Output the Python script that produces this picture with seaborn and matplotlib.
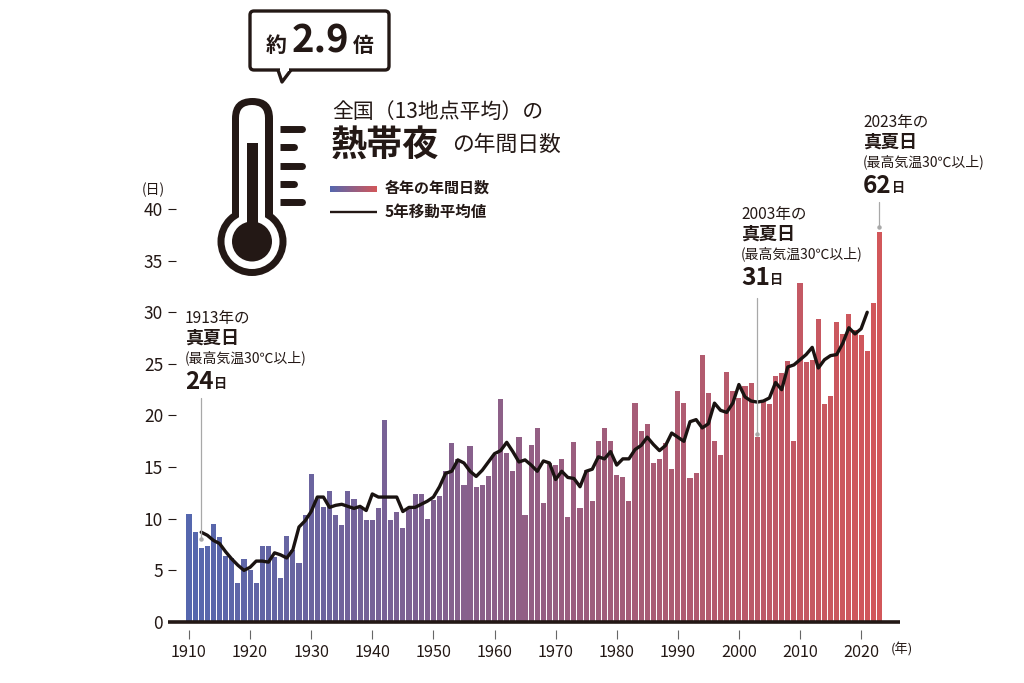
import numpy as np
import pandas as pd
import matplotlib
matplotlib.use("Agg")
import matplotlib.pyplot as plt
import seaborn as sns
from matplotlib.patches import Circle, FancyBboxPatch, Polygon, Rectangle

# Values
first_year = 1910
days = [
    10.5, 8.7, 7.2, 7.4, 9.5, 8.2, 6.4, 6.2, 3.8, 6.1,
    5.0, 3.8, 7.4, 7.4, 6.3, 4.3, 8.3, 7.0, 5.7, 10.4,
    14.3, 11.9, 11.1, 12.7, 10.4, 9.4, 12.7, 11.9, 11.2, 9.9,
    9.9, 11.0, 19.6, 9.9, 10.7, 9.1, 11.0, 12.4, 12.4, 10.0,
    11.8, 12.2, 14.6, 17.3, 15.8, 13.3, 17.0, 13.1, 13.3, 14.1,
    16.2, 21.6, 16.4, 14.6, 17.9, 10.4, 17.1, 18.8, 11.5, 15.4,
    15.2, 15.8, 10.2, 17.4, 11.0, 14.7, 11.7, 17.5, 18.8, 17.5,
    14.2, 14.0, 11.7, 21.2, 18.5, 19.2, 15.4, 15.8, 17.3, 14.8,
    22.4, 21.2, 13.9, 14.4, 25.9, 22.2, 17.5, 16.2, 24.2, 22.4,
    21.7, 22.9, 23.1, 17.9, 21.5, 21.1, 23.8, 24.1, 25.3, 17.5,
    32.8, 25.2, 25.4, 29.3, 21.1, 21.9, 29.1, 27.9, 29.8, 28.3,
    27.8, 26.2, 30.9, 37.8,
]
ma_first_year = 1912
moving_avg = [
    8.7, 8.4, 7.9, 7.6, 6.8, 6.1, 5.5, 5.0,
    5.3, 5.9, 5.9, 5.8, 6.7, 6.5, 6.2, 7.0, 9.2, 9.8,
    10.7, 12.1, 12.1, 11.1, 11.3, 11.4, 11.2, 11.0, 11.2, 10.8,
    12.4, 12.1, 12.1, 12.1, 12.1, 10.7, 11.1, 11.1, 11.4, 11.7,
    12.1, 13.1, 14.4, 14.6, 15.7, 15.4, 14.6, 14.1, 14.7, 15.5,
    16.3, 16.6, 17.4, 16.5, 15.5, 15.7, 15.2, 14.6, 15.6, 15.4,
    13.8, 14.6, 14.0, 13.9, 13.1, 14.6, 14.8, 16.0, 15.8, 16.5,
    15.2, 15.8, 15.8, 16.7, 17.1, 17.9, 17.2, 16.6, 17.1, 18.3,
    17.9, 17.5, 19.4, 19.6, 18.8, 19.2, 21.2, 20.5, 20.3, 21.2,
    23.0, 21.8, 21.4, 21.3, 21.4, 21.7, 23.2, 22.5, 24.7, 24.9,
    25.4, 25.9, 26.6, 24.6, 25.4, 25.8, 25.9, 27.0, 28.5, 27.9,
    28.4, 30.0,
]
x_ticks = list(range(1910, 2021, 10))
y_ticks = [0, 5, 10, 15, 20, 25, 30, 35, 40]
callouts = [
    ("1913年の", "24", 185, 318, 1912, 21.7, 8.0),
    ("2003年の", "31", 741, 214, 2003, 31.4, 18.2),
    ("2023年の", "62", 863, 122, 2023, 40.7, 38.3),
]

INK = "#231815"
BLUE = "#5567AE"
RED = "#D2575A"
LEAD = "#A8A8A8"
W, H = 1024, 683

sns.set_theme(style="white")
plt.rcParams["font.family"] = ["Noto Sans CJK JP", "DejaVu Sans"]
plt.rcParams["text.color"] = INK

years = np.arange(first_year, first_year + len(days))
ma_years = np.arange(ma_first_year, ma_first_year + len(moving_avg))
df = pd.DataFrame({"year": years, "days": days})
ma_df = pd.DataFrame({"year": ma_years, "avg": moving_avg})
colors = sns.blend_palette([BLUE, RED], len(days))

fig = plt.figure(figsize=(W / 100, H / 100), dpi=100, facecolor="white")

# chart axes placed by pixel: left 168, right 900, y=40 at 209, y=0 at 622
ax = fig.add_axes([168 / W, 1 - 622 / H, 732 / W, 413 / H])
sns.barplot(data=df, x="year", y="days", hue="year", palette=dict(zip(years, colors)),
            native_scale=True, dodge=False, legend=False, width=0.84, saturation=1,
            linewidth=0, ax=ax)
sns.lineplot(data=ma_df, x="year", y="avg", color="#1a1311", linewidth=2.4, ax=ax,
             solid_joinstyle="round", solid_capstyle="round", zorder=5)
ax.set_xlim(first_year - 21 / 6.11, first_year + 711 / 6.11)
ax.set_ylim(0, 40)
ax.set_xlabel("")
ax.set_ylabel("")
ax.axhline(0, color=INK, linewidth=2.6, zorder=6, clip_on=False, solid_capstyle="butt")
sns.despine(ax=ax, left=True, top=True, right=True, bottom=False)
ax.spines["bottom"].set_position(("outward", 6))
ax.spines["bottom"].set_visible(False)
ax.set_xticks(x_ticks)
ax.set_yticks(y_ticks)
ax.tick_params(axis="x", bottom=True, length=6.5, width=0.8, color="#666666",
               labelsize=11.7, labelcolor=INK, pad=3)
ax.tick_params(axis="y", left=True, direction="in", length=6, width=0.8, color=INK,
               labelsize=12.5, labelcolor=INK, pad=3.5)
ax.patch.set_alpha(0)

# leader lines from the callouts to their bars
for _, _, _, _, lead_year, lead_top, lead_end in callouts:
    ax.plot([lead_year, lead_year], [lead_top, lead_end], color=LEAD, linewidth=0.9,
            clip_on=False, zorder=7)
    ax.plot([lead_year], [lead_end], "o", color=LEAD, markersize=2.2, clip_on=False, zorder=7)

# overlay in pixel coordinates for the icon, the title and the notes
ov = fig.add_axes([0, 0, 1, 1], facecolor="none")
ov.set_xlim(0, W)
ov.set_ylim(H, 0)
ov.axis("off")


def label(x, y, s, size, weight="normal", ha="left"):
    ov.text(x, y, s, fontsize=size, fontweight=weight, ha=ha, va="center", color=INK)


# speech bubble
ov.add_patch(FancyBboxPatch((250, 11), 139, 59, boxstyle="round,pad=0,rounding_size=4",
                            fc="white", ec=INK, lw=2.4, mutation_aspect=1))
ov.add_patch(Polygon([(278, 70), (282, 82), (291, 70)], closed=False, fc="white", ec=INK,
                     lw=2.4, joinstyle="round", zorder=3))
ov.add_patch(Rectangle((279.5, 67), 9.5, 4, fc="white", ec="none", zorder=4))
label(266, 45, "約", 15, "bold")
label(292, 41, "2.9", 27.5, "bold")
label(363, 46, "倍", 15, "bold", ha="center")

# thermometer
ov.add_patch(FancyBboxPatch((232, 98), 41, 150, boxstyle="round,pad=0,rounding_size=20.5",
                            fc=INK, ec="none"))
ov.add_patch(Circle((252, 241.5), 34.5, fc=INK, ec="none"))
ov.add_patch(Circle((252, 241.5), 27.5, fc="white", ec="none"))
ov.add_patch(FancyBboxPatch((239, 105), 26, 130, boxstyle="round,pad=0,rounding_size=13",
                            fc="white", ec="none"))
ov.add_patch(Rectangle((247, 143), 11, 90, fc=INK, ec="none"))
ov.add_patch(Circle((252, 241.5), 20, fc=INK, ec="none"))
for tick_y, tick_end in [(128.5, 305), (147, 297), (165.5, 305), (184, 297), (202, 305)]:
    ov.plot([280, 290], [tick_y, tick_y], color=INK, lw=5, solid_capstyle="butt")
    ov.plot([285, tick_end - 3.5], [tick_y, tick_y], color=INK, lw=5, solid_capstyle="round")

# title
label(332, 112, "全国（13地点平均）の", 15)
label(331, 145, "熱帯夜", 26, "bold")
label(452, 145, "の年間日数", 15.7)

# legend
grad = np.array(colors)[np.newaxis, :, :]
ov.imshow(grad, extent=(330, 377, 192, 186), aspect="auto", zorder=2)
ov.set_xlim(0, W)
ov.set_ylim(H, 0)
ov.plot([330, 377], [212, 212], color=INK, lw=1.7, solid_capstyle="butt")
label(385, 188, "各年の年間日数", 10.8, "bold")
label(385, 212, "5年移動平均値", 11.2, "bold")

# unit labels
label(153, 190, "(日)", 10, ha="center")
label(902, 650, "(年)", 9.5, ha="center")

# callouts
for head, big, x0, y0, *_ in callouts:
    label(x0, y0, head, 11.2)
    label(x0, y0 + 20.5, "真夏日", 13, "bold")
    label(x0, y0 + 40, "(最高気温30℃以上)", 10)
    label(x0, y0 + 64, big, 17.5, "bold")
    label(x0 + 29, y0 + 66, "日", 9.5, "bold")

fig.savefig("out.png", dpi=100)
